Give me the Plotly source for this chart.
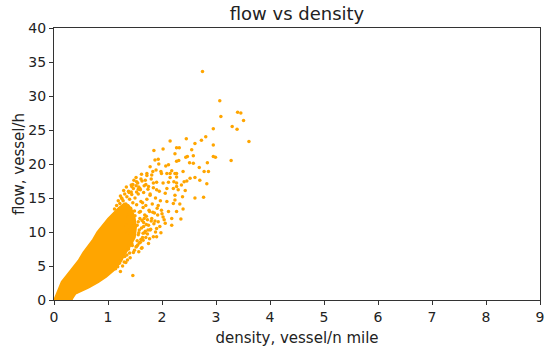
import plotly.graph_objects as go

# Solid (fully overlapped) core of the point cloud, outline
core_density = [0.0, 0.03, 0.07, 0.14, 0.22, 0.30, 0.38, 0.45, 0.54, 0.62, 0.72, 0.80, 0.90, 1.00, 1.10, 1.20, 1.30,
                1.38, 1.45, 1.50, 1.52, 1.50, 1.42, 1.32, 1.24, 1.12, 0.97, 0.82, 0.64, 0.50, 0.40, 0.35, 0.33]
core_flow = [0.0, 0.6, 1.5, 2.7, 3.5, 4.3, 5.2, 5.8, 7.0, 7.8, 8.9, 10.0, 11.0, 12.0, 12.8, 13.6, 14.2,
             14.0, 13.2, 12.0, 10.5, 9.2, 8.0, 6.8, 5.6, 4.4, 3.4, 2.6, 1.8, 1.3, 0.9, 0.3, 0.0]

# Individual points in the speckled and sparse parts of the cloud
pt_density = [
    1.22, 1.25, 1.28, 1.31, 1.33, 1.35, 1.37, 1.38, 1.40, 1.42, 1.44, 1.46, 1.47, 1.49, 1.50, 1.52, 1.53, 1.55, 1.56, 1.58,
    1.60, 1.61, 1.63, 1.65, 1.66, 1.68, 1.70, 1.72, 1.74, 1.76, 1.78, 1.80, 1.82, 1.84, 1.86, 1.88, 1.90, 1.93, 1.95, 1.97,
    1.32, 1.34, 1.36, 1.39, 1.41, 1.43, 1.45, 1.48, 1.50, 1.51, 1.54, 1.56, 1.57, 1.59, 1.62, 1.64, 1.66, 1.69, 1.71, 1.73,
    1.75, 1.79, 1.81, 1.85, 1.88, 1.92,
    1.24, 1.27, 1.30, 1.33, 1.35, 1.38, 1.41, 1.44, 1.47, 1.52, 1.58, 1.63,
    2.75, 3.07, 3.09, 3.40, 3.46, 3.51, 3.30, 3.39, 3.61, 2.95, 3.28, 2.81, 2.73, 2.61, 2.45, 2.95, 2.15, 1.85, 2.02, 2.27,
    2.32, 2.55, 2.95, 2.99, 2.84, 2.44, 2.47, 2.24, 1.87, 1.93, 2.31, 2.58, 2.69, 2.86, 2.78, 2.12, 2.15, 2.27, 2.39, 2.52,
    2.61, 2.70, 2.83, 2.61, 2.77,
    2.27, 1.94, 2.07, 1.78, 1.89, 2.18, 1.62, 1.72, 1.81, 1.99, 2.15, 1.53, 1.69, 1.84, 2.02, 2.22, 1.44, 1.59, 1.75, 1.90,
    2.09, 2.27,
    2.58, 2.51, 1.98, 2.09, 2.24, 2.27, 2.46, 2.12, 2.27, 2.36, 2.41, 2.21, 2.30, 2.43, 2.06, 2.24, 2.38, 2.09, 2.21, 2.33,
    1.99, 2.12, 2.27, 2.39, 2.02, 2.18, 2.35,
    2.24, 2.06, 2.18, 1.93, 1.90, 1.78, 1.84, 1.65, 1.75, 1.62, 1.90, 1.33, 1.46, 1.23,
    1.12, 1.16, 1.19, 1.23, 1.26, 1.29, 1.34, 1.39, 1.43, 1.48, 1.53, 1.57, 1.60, 1.64, 1.67, 1.70, 1.73, 1.77, 1.80, 1.83,
    1.54, 1.56, 1.58, 1.61, 1.63, 1.66, 1.68, 1.71, 1.74, 1.77, 1.55, 1.60, 1.65, 1.70, 1.45, 1.49, 1.53, 1.57, 1.36, 1.40,
    1.27, 1.31, 1.18, 1.21, 1.14, 1.43, 1.46, 1.52, 1.56, 1.61, 1.67, 1.72, 1.78, 1.83, 1.87, 1.91, 1.96, 2.00, 2.04, 1.98,
]
pt_flow = [
    14.2, 15.0, 14.6, 15.6, 14.1, 15.2, 13.8, 16.0, 14.8, 13.5, 15.5, 14.3, 16.4, 13.1, 15.0, 16.8, 14.0, 17.2, 15.6, 12.9,
    16.2, 14.5, 17.5, 13.6, 15.8, 12.5, 17.0, 14.8, 16.3, 13.2, 15.4, 17.8, 14.1, 16.5, 12.8, 15.0, 17.3, 13.9, 16.0, 14.6,
    12.2, 11.0, 9.8, 12.6, 10.5, 8.9, 11.8, 9.6, 12.4, 10.8, 8.7, 11.5, 9.9, 12.0, 10.6, 9.2, 11.4, 10.1, 12.3, 9.7,
    11.0, 10.4, 12.0, 11.2, 10.0, 12.5,
    6.0, 7.2, 5.6, 8.0, 6.6, 7.5, 6.2, 8.3, 7.0, 7.8, 8.4, 7.7,
    33.6, 29.3, 27.0, 27.6, 27.5, 26.4, 25.5, 25.1, 23.3, 25.2, 20.5, 24.0, 23.5, 23.0, 23.7, 22.8, 23.4, 22.0, 22.2, 22.4,
    22.4, 22.1, 21.1, 21.0, 20.2, 21.0, 21.1, 21.5, 20.6, 20.7, 20.5, 20.1, 19.5, 18.9, 18.9, 19.9, 18.6, 18.6, 18.9, 17.9,
    18.0, 17.6, 17.1, 15.0, 15.1,
    20.4, 20.0, 19.7, 19.6, 19.1, 19.0, 18.5, 18.6, 18.4, 18.6, 18.0, 17.4, 17.6, 17.2, 17.2, 17.4, 16.7, 16.4, 16.7, 16.2,
    16.4, 16.7,
    21.2, 20.2, 18.9, 18.6, 18.6, 18.1, 17.5, 17.3, 17.2, 16.9, 17.4, 16.4, 16.2, 16.1, 15.7, 15.4, 15.2, 14.5, 14.2, 14.1,
    13.2, 13.0, 13.0, 13.4, 12.2, 12.0, 11.9,
    14.7, 11.3, 11.0, 11.5, 10.5, 10.3, 9.3, 8.8, 8.3, 7.6, 9.3, 5.5, 3.6, 4.2,
    13.4, 13.9, 14.6, 15.3, 14.9, 16.1, 16.6, 15.8, 16.9, 17.6, 15.9, 16.6, 13.0, 14.3, 12.0, 13.9, 11.8, 13.0, 11.6, 12.9,
    11.0, 9.6, 10.3, 8.9, 11.7, 10.8, 9.9, 11.1, 10.3, 9.0, 8.1, 8.5, 9.8, 9.2, 8.0, 7.3, 7.9, 7.1, 5.9, 6.9,
    5.0, 6.4, 4.9, 5.4, 4.6, 15.9, 17.0, 18.0, 16.3, 17.8, 16.8, 18.3, 15.6, 18.9, 11.6, 13.5, 10.8, 12.7, 11.8, 9.9,
]

x_ticks = [0, 1, 2, 3, 4, 5, 6, 7, 8, 9]
y_ticks = [0, 5, 10, 15, 20, 25, 30, 35, 40]

ORANGE = "#FFA500"
FONT = "DejaVu Sans"
TXT = "#222222"

fig = go.Figure()
fig.add_trace(go.Scatter(x=core_density, y=core_flow, mode="lines", fill="toself",
                         fillcolor=ORANGE, line=dict(color=ORANGE, width=1.5),
                         hoverinfo="skip", showlegend=False))
fig.add_trace(go.Scatter(x=pt_density, y=pt_flow, mode="markers",
                         marker=dict(color=ORANGE, size=3.5, line=dict(width=0)),
                         showlegend=False))

axis_common = dict(showgrid=False, zeroline=False, showline=True, linecolor="#333333",
                   linewidth=1, mirror=True, ticks="outside", ticklen=4, tickcolor="#333333",
                   automargin=False,
                   tickfont=dict(family=FONT, size=14, color=TXT))

fig.update_layout(
    width=550, height=350,
    margin=dict(l=54, r=10, t=28, b=50),
    plot_bgcolor="white", paper_bgcolor="white",
    title=dict(text="flow vs density", x=0.54, xanchor="center", y=1 - 14 / 350, yanchor="middle",
               yref="container", font=dict(family=FONT, size=18, color=TXT)),
    xaxis=dict(range=[0, 9], tickvals=x_ticks,
               title=dict(text="density, vessel/n mile", standoff=8,
                          font=dict(family=FONT, size=15, color=TXT)),
               **axis_common),
    yaxis=dict(range=[0, 40], tickvals=y_ticks,
               title=dict(text="flow, vessel/h", standoff=0,
                          font=dict(family=FONT, size=15, color=TXT)),
               **axis_common),
)

# Remove the default page-body margin so the figure sits at the window's top-left corner.
fig.write_html("out.html", config={"displayModeBar": False},
               post_script="document.body.style.margin='0px';")
